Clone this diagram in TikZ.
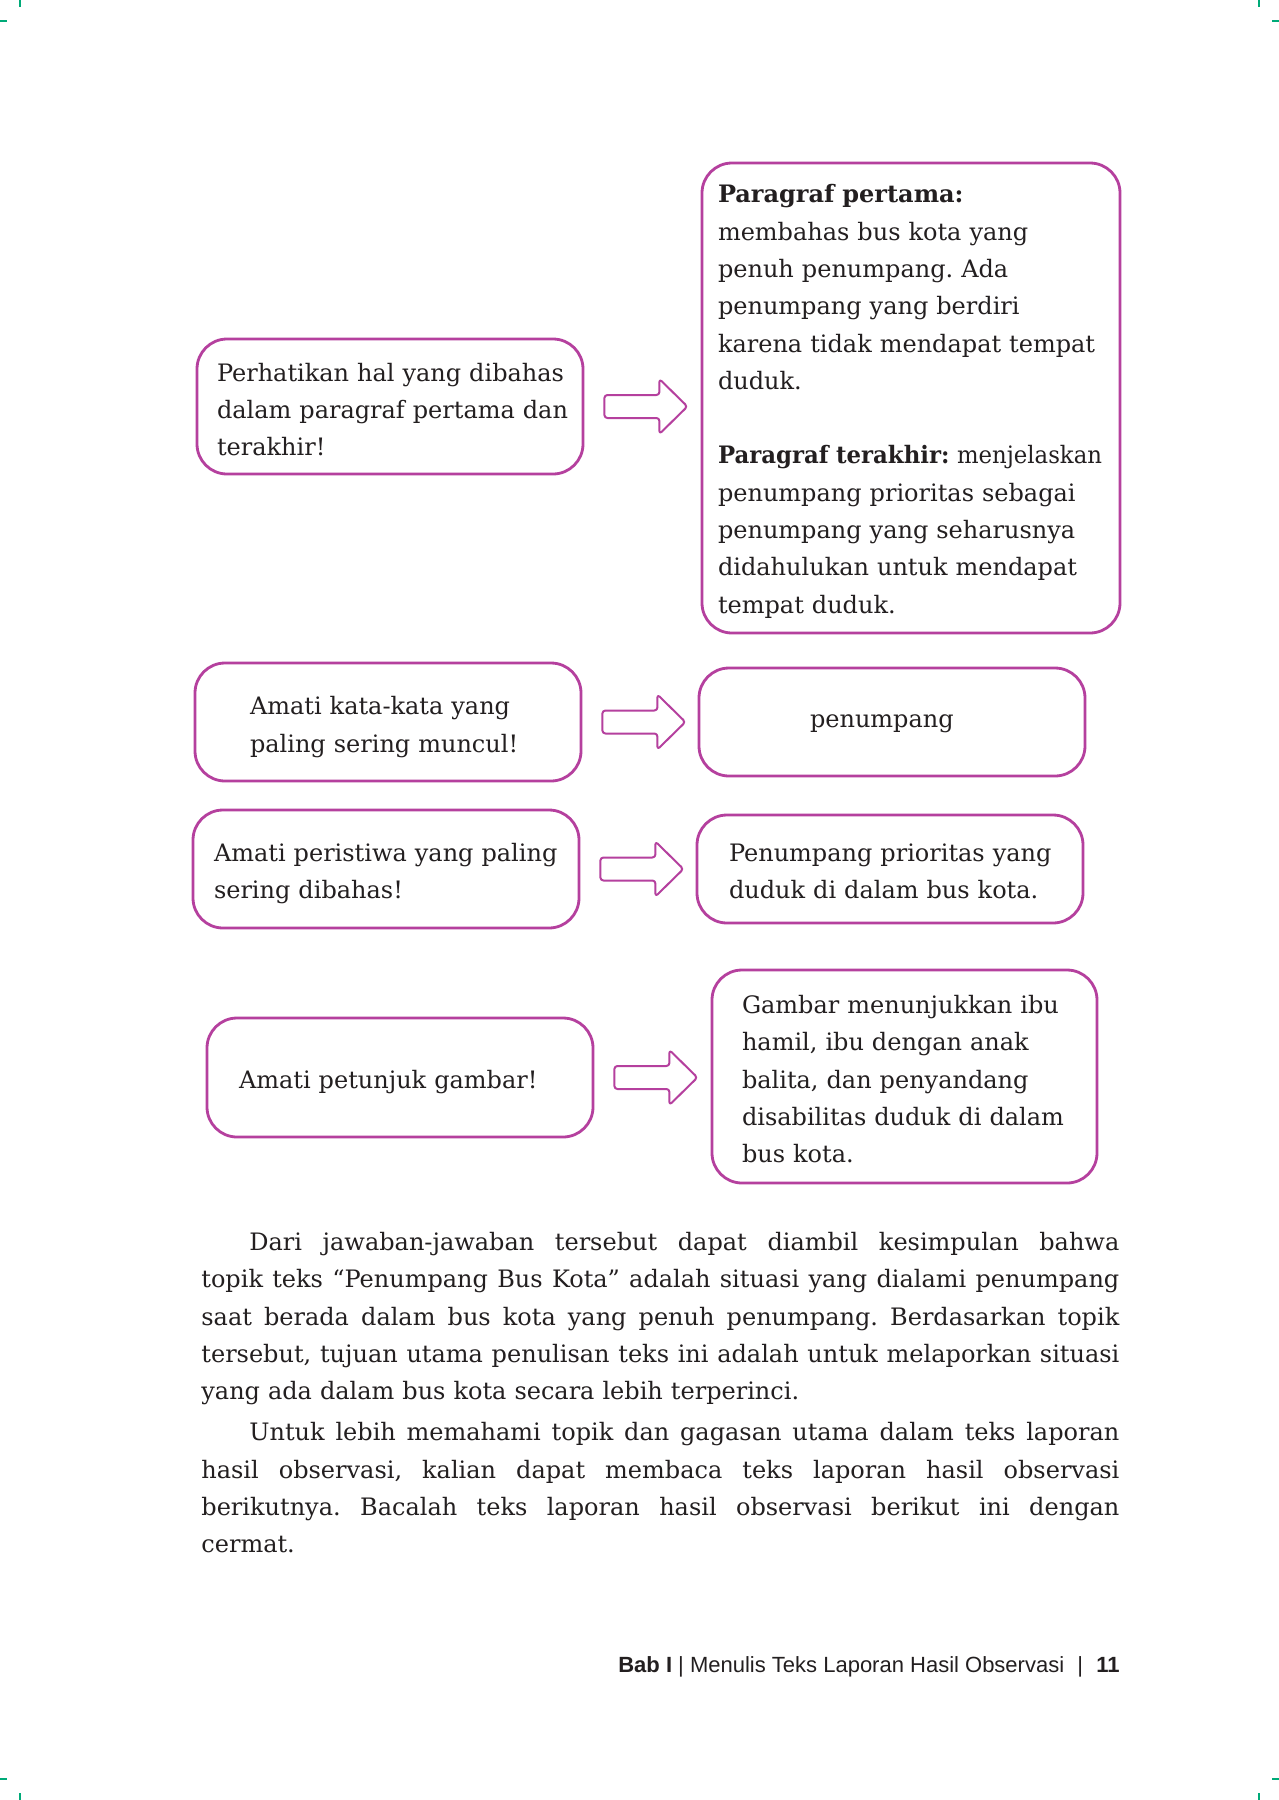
\documentclass[tikz,border=0pt]{standalone}
\usepackage{fontspec}
\usepackage{graphicx}
\setmainfont{DejaVu Serif}
\newfontfamily\footfont{Liberation Sans}
\usetikzlibrary{calc}
\definecolor{mag}{RGB}{181,64,158}
\definecolor{ink}{RGB}{35,31,32}
\definecolor{cropgreen}{RGB}{0,170,120}
\frenchspacing
\newcommand\bl[1]{\makebox[\linewidth][l]{#1}}
\newlength\bodyW \setlength\bodyW{459pt}
\newlength\indW \setlength\indW{435pt}
\newsavebox\linebox
\newcommand\fitline[2]{\leavevmode\sbox\linebox{#2}\ifdim\wd\linebox>#1\relax\resizebox{#1}{\height}{\usebox\linebox}\else\hbox to #1{\spaceskip=\fontdimen2\font plus 1fil\relax #2}\fi}
\newcommand\fitto[2]{\leavevmode\sbox\linebox{#2}\ifdim\wd\linebox>#1\relax\resizebox{#1}{\height}{\usebox\linebox}\else\usebox\linebox\fi}
\newcommand\jl[1]{\fitline{\bodyW}{#1}}
\newcommand\ji[1]{\hspace*{24pt}\fitline{\indW}{#1}}
\newcommand\blockarrow[1]{\draw[arr] ($(#1.east)+(20,-11.5)$) -- ++(55,0) -- ++(0,-16) -- ++(28,27.5) -- ++(-28,27.5) -- ++(0,-16) -- ++(-55,0) -- cycle;}
\begin{document}
\begin{tikzpicture}[x=0.5pt,y=-0.5pt,
 box/.style={draw=mag, line width=1.4pt, rounded corners=15pt, fill=white, align=left, inner ysep=0pt, text=ink, font=\fontsize{12}{18.65}\selectfont},
 arr/.style={draw=mag, line width=1pt, rounded corners=1.5pt, fill=white, line join=round},
 cropmark/.style={draw=cropgreen, line width=1.3pt},
 bodytext/.style={text width=459pt, align=left, inner sep=0pt, text=ink, font=\fontsize{12}{18.65}\selectfont},
 foot/.style={inner sep=0pt, text=ink, font=\footfont\fontsize{11}{13}\selectfont}]
\fill[white] (0,0) rectangle (1279,1800);
\useasboundingbox (0,0) rectangle (1279,1800);
% crop marks
\draw[cropmark] (20,0) -- (20,7);
\draw[cropmark] (0,21) -- (7,21);
\draw[cropmark] (1259,0) -- (1259,7);
\draw[cropmark] (1272,21) -- (1279,21);
\draw[cropmark] (20,1793) -- (20,1800);
\draw[cropmark] (0,1779) -- (7,1779);
\draw[cropmark] (1259,1793) -- (1259,1800);
\draw[cropmark] (1272,1779) -- (1279,1779);
% row 1
\node[box, minimum width=193pt, minimum height=67.5pt, inner xsep=10pt, text width=173pt] (a1) at (390,406.5)
 {\bl{\rule{0pt}{15.5pt}Perhatikan hal yang dibahas}\\\bl{dalam paragraf pertama dan}\\\bl{terakhir!\rule[-3.5pt]{0pt}{0pt}}};
\node[box, minimum width=209pt, minimum height=235pt, inner xsep=8pt, text width=193pt] (b1) at (911,398)
 {\bl{\rule{0pt}{13.5pt}\textbf{Paragraf pertama:}}\\
  \bl{membahas bus kota yang}\\
  \bl{penuh penumpang. Ada}\\
  \bl{penumpang yang berdiri}\\
  \bl{karena tidak mendapat tempat}\\
  \bl{duduk.}\\[18.65pt]
  \bl{\fitto{192pt}{\textbf{Paragraf terakhir:} menjelaskan}}\\
  \bl{penumpang prioritas sebagai}\\
  \bl{penumpang yang seharusnya}\\
  \bl{didahulukan untuk mendapat}\\
  \bl{tempat duduk.\rule[-3.5pt]{0pt}{0pt}}};
\blockarrow{a1}
% row 2
\node[box, minimum width=193pt, minimum height=59pt, inner xsep=27.5pt, text width=138pt] (a2) at (388,722)
 {\bl{\rule{0pt}{15pt}Amati kata-kata yang}\\\bl{paling sering muncul!\rule[-3.5pt]{0pt}{0pt}}};
\node[box, minimum width=193pt, minimum height=54pt, inner xsep=55.5pt, text width=82pt] (b2) at (892,722)
 {\bl{\rule{0pt}{8.5pt}penumpang\rule[-3.5pt]{0pt}{0pt}}};
\blockarrow{a2}
% row 3
\node[box, minimum width=193pt, minimum height=59pt, inner xsep=10.5pt, text width=172pt] (a3) at (386,869)
 {\bl{\rule{0pt}{14.5pt}Amati peristiwa yang paling}\\\bl{sering dibahas!\rule[-3.5pt]{0pt}{0pt}}};
\node[box, minimum width=193pt, minimum height=54pt, inner xsep=16pt, text width=161pt] (b3) at (890,869)
 {\bl{\rule{0pt}{14.5pt}Penumpang prioritas yang}\\\bl{duduk di dalam bus kota.\rule[-3.5pt]{0pt}{0pt}}};
\blockarrow{a3}
% row 4
\node[box, minimum width=193pt, minimum height=59.5pt, inner xsep=16pt, text width=161pt] (a4) at (400,1077.5)
 {\bl{\rule{0pt}{14pt}Amati petunjuk gambar!\rule[-3.5pt]{0pt}{0pt}}};
\node[box, minimum width=192.5pt, minimum height=106.5pt, inner xsep=15pt, text width=162.5pt] (b4) at (904.5,1076.5)
 {\bl{\rule{0pt}{15pt}Gambar menunjukkan ibu}\\
  \bl{hamil, ibu dengan anak}\\
  \bl{balita, dan penyandang}\\
  \bl{disabilitas duduk di dalam}\\
  \bl{bus kota.\rule[-3.5pt]{0pt}{0pt}}};
\blockarrow{a4}
% body text
\node[bodytext, anchor=north west] (body) at (201,1230)
 {\rule{0pt}{10pt}\ji{Dari jawaban-jawaban tersebut dapat diambil kesimpulan bahwa}\\
  \jl{topik teks “Penumpang Bus Kota” adalah situasi yang dialami penumpang}\\
  \jl{saat berada dalam bus kota yang penuh penumpang. Berdasarkan topik}\\
  \jl{tersebut, tujuan utama penulisan teks ini adalah untuk melaporkan situasi}\\
  yang ada dalam bus kota secara lebih terperinci.\\[2pt]
  \ji{Untuk lebih memahami topik dan gagasan utama dalam teks laporan}\\
  \jl{hasil observasi, kalian dapat membaca teks laporan hasil observasi}\\
  \jl{berikutnya. Bacalah teks laporan hasil observasi berikut ini dengan}\\
  cermat.};
% footer
\node[foot, anchor=base east] (footer) at (1120,1672)
 {\textbf{Bab I} | Menulis Teks Laporan Hasil Observasi\hspace{0.6em}|\hspace{0.6em}\textbf{11}};
\end{tikzpicture}
\end{document}
